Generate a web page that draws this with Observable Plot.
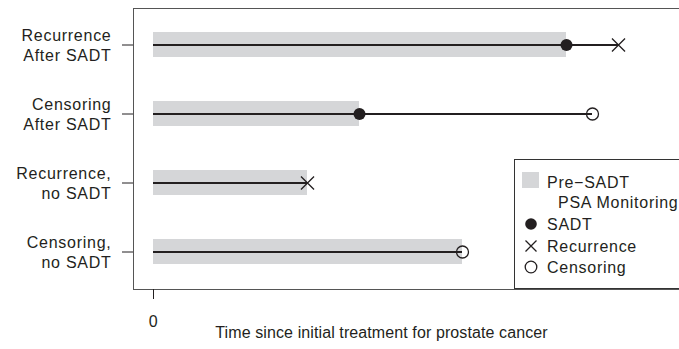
<!DOCTYPE html>
<html><head><meta charset="utf-8">
<script src="https://cdn.jsdelivr.net/npm/d3@7"></script>
<script src="https://cdn.jsdelivr.net/npm/@observablehq/plot@0.6"></script>
<style>
body{margin:0;overflow:hidden;background:#fff;font-family:"Liberation Sans",Arial,sans-serif;}
#wrap{position:relative;width:679px;height:349px;overflow:hidden;}
#legend{position:absolute;left:514px;top:159px;width:230px;height:130px;border:1px solid #333;background:#fff;box-sizing:border-box;font-size:16px;letter-spacing:0.73px;color:#231f20;}
.item{position:absolute;white-space:nowrap;line-height:1;}
.sym{position:absolute;}
</style></head><body><div id="wrap"></div>
<script>
// ---- data ----
const categories = ["Recurrence\nAfter SADT", "Censoring\nAfter SADT", "Recurrence,\nno SADT", "Censoring,\nno SADT"];
const startTime = [0, 0, 0, 0];
const sadtTime = [41.3, 20.6, null, null];
const endTime = [46.5, 43.9, 15.4, 30.9];
const outcomes = ["Recurrence", "Censoring", "Recurrence", "Censoring"];
const xTicks = [0];
const xLabel = "Time since initial treatment for prostate cancer";
const legendLabels = ["Pre\u2212SADT", "PSA Monitoring", "SADT", "Recurrence", "Censoring"];

const ink = "#231f20";
const grey = "#d5d6d8";
const rows = categories.map((c, i) => ({
  cat: c, start: startTime[i], sadt: sadtTime[i], end: endTime[i], outcome: outcomes[i],
  pre: sadtTime[i] ?? endTime[i]
}));

const plot = Plot.plot({
  width: 679, height: 349,
  marginLeft: 133, marginRight: 0, marginTop: 8, marginBottom: 60,
  style: {fontFamily: '"Liberation Sans", Arial, sans-serif', fontSize: "16px", letterSpacing: "0.73px", color: ink, background: "#fff"},
  x: {domain: [-2, 52.6]},
  y: {type: "band", domain: categories, padding: 0.055},
  marks: [
    Plot.barX(rows, {y: "cat", x1: "start", x2: "pre", fill: grey, insetTop: 20, insetBottom: 20}),
    Plot.ruleY(rows, {y: "cat", x1: "start", x2: "end", stroke: ink, strokeWidth: 2}),
    Plot.dot(rows.filter(d => d.sadt != null), {y: "cat", x: "sadt", r: 6, fill: ink, stroke: null}),
    Plot.dot(rows.filter(d => d.outcome === "Recurrence"), {y: "cat", x: "end", symbol: "times", r: 6, stroke: ink, strokeWidth: 1.3}),
    Plot.dot(rows.filter(d => d.outcome === "Censoring"), {y: "cat", x: "end", r: 6, stroke: ink, fill: "none", strokeWidth: 1.3}),
    Plot.frame({anchor: "left", stroke: "#555"}),
    Plot.frame({anchor: "top", stroke: "#555"}),
    Plot.frame({anchor: "bottom", stroke: "#555"}),
    Plot.axisY({tickSize: 11, tickPadding: 11, lineHeight: 1.25, fontSize: 16, tickFormat: d => d, label: null, stroke: ink, fill: ink}),
    Plot.axisX(xTicks, {tickSize: 10, tickPadding: 16, fontSize: 16, tickFormat: d => String(d), label: null, stroke: ink, fill: ink}),
    Plot.text([xLabel], {frameAnchor: "bottom", dy: 48, dx: -25, text: d => d, fill: ink, fontSize: 16})
  ]
});
d3.select(plot).selectAll("g[aria-label='text'] text").style("letter-spacing", "0.1px");
const wrap = document.getElementById("wrap");
wrap.appendChild(plot);

// ---- legend ----
const lg = document.createElement("div");
lg.id = "legend";
const sym = (x, y, inner) => `<svg class="sym" style="left:${x - 8}px;top:${y - 8}px" width="16" height="16" viewBox="-8 -8 16 16">${inner}</svg>`;
lg.innerHTML =
  `<div class="sym" style="left:7px;top:12px;width:17px;height:16px;background:${grey}"></div>` +
  `<div class="item" style="left:32px;top:15px">${legendLabels[0]}</div>` +
  `<div class="item" style="left:43px;top:35px">${legendLabels[1]}</div>` +
  sym(16, 64, `<circle r="5.8" fill="${ink}"/>`) +
  `<div class="item" style="left:32px;top:57px">${legendLabels[2]}</div>` +
  sym(16, 86, `<path d="M-5.5,-5.5L5.5,5.5M-5.5,5.5L5.5,-5.5" stroke="${ink}" stroke-width="1.3"/>`) +
  `<div class="item" style="left:32px;top:79px">${legendLabels[3]}</div>` +
  sym(16, 107, `<circle r="5.8" fill="none" stroke="${ink}" stroke-width="1.3"/>`) +
  `<div class="item" style="left:32px;top:100px">${legendLabels[4]}</div>`;
wrap.appendChild(lg);
</script>
</body></html>
